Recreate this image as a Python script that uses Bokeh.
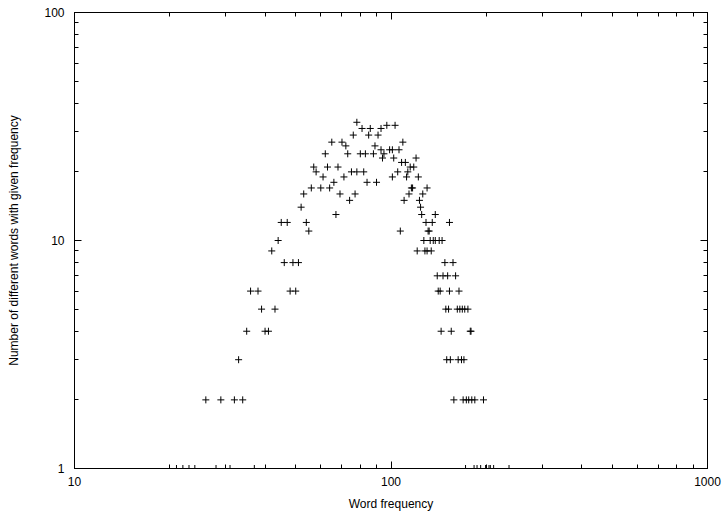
from bokeh.plotting import figure
from bokeh.models import (FixedTicker, LogAxis, PrintfTickFormatter, Range1d, ColumnDataSource,
                          CustomLabelingPolicy)
from bokeh.embed import file_html
from bokeh.resources import INLINE

# Word frequency (x) and number of different words having that frequency (y)
word_freq = [
    21, 22, 23, 24, 28, 30, 31, 37, 172, 183, 187, 192, 199, 204, 206, 211, 236,   # count 1
    26, 29, 32, 34, 158, 169, 173, 176, 180, 184, 196,                             # count 2
    33, 150, 154, 163, 167, 170,                                                   # count 3
    35, 40, 41, 144, 155, 178, 179,                                                # count 4
    39, 43, 149, 152, 162, 165, 168, 171, 175,                                     # count 5
    36, 38, 48, 50, 141, 143, 153, 164,                                            # count 6
    140, 146, 151, 160,                                                            # count 7
    46, 49, 51, 148, 157,                                                          # count 8
    42, 121, 128, 130, 134,                                                        # count 9
    44, 127, 133, 136, 138, 142, 145,                                              # count 10
    55, 107, 131, 132,                                                             # count 11
    45, 47, 54, 129, 135, 153,                                                     # count 12
    67, 125, 138,                                                                  # count 13
    52, 124,                                                                       # count 14
    74, 110, 123,                                                                  # count 15
    53, 69, 77, 114, 126,                                                          # count 16
    56, 60, 64, 116, 117, 130,                                                     # count 17
    66, 84, 90,                                                                    # count 18
    61, 71, 101, 112, 122,                                                         # count 19
    58, 75, 78, 82, 105, 113,                                                      # count 20
    57, 63, 68, 115, 118,                                                          # count 21
    108, 111,                                                                      # count 22
    94, 102, 120,                                                                  # count 23
    62, 73, 80, 83, 88, 95,                                                        # count 24
    93, 99, 101, 106,                                                              # count 25
    72, 89,                                                                        # count 26
    65, 70, 109,                                                                   # count 27
    76, 85, 91,                                                                    # count 29
    81, 86, 93,                                                                    # count 31
    97, 103,                                                                       # count 32
    78,                                                                            # count 33
]
n_words = (
    [1] * 17 + [2] * 11 + [3] * 6 + [4] * 7 + [5] * 9 + [6] * 8 + [7] * 4 + [8] * 5 +
    [9] * 5 + [10] * 7 + [11] * 4 + [12] * 6 + [13] * 3 + [14] * 2 + [15] * 3 + [16] * 5 +
    [17] * 6 + [18] * 3 + [19] * 5 + [20] * 6 + [21] * 5 + [22] * 2 + [23] * 3 + [24] * 6 +
    [25] * 4 + [26] * 2 + [27] * 3 + [29] * 3 + [31] * 3 + [32] * 2 + [33] * 1
)

x_major = [10, 100, 1000]
x_minor = [20, 30, 40, 50, 60, 70, 80, 90, 200, 300, 400, 500, 600, 700, 800, 900]
y_major = [1, 10, 100]
y_minor = [2, 3, 4, 5, 6, 7, 8, 9, 20, 30, 40, 50, 60, 70, 80, 90]

x_label = "Word frequency"
y_label = "Number of different words with given frequency"

FONT = "Liberation Sans"

p = figure(frame_width=633, frame_height=456, x_axis_type="log", y_axis_type="log",
           x_range=Range1d(10, 1000), y_range=Range1d(1, 100),
           output_backend="svg", toolbar_location=None,
           min_border_left=74, min_border_right=20, min_border_top=12, min_border_bottom=45)

p.background_fill_color = "white"
p.border_fill_color = "white"
p.outline_line_color = "black"
p.outline_line_width = 1
p.outline_line_alpha = 1
p.xgrid.visible = False
p.ygrid.visible = False

src = ColumnDataSource(dict(x=word_freq, y=n_words))
p.scatter("x", "y", source=src, marker="cross", size=7, line_color="black", line_width=1)

hide_labels = CustomLabelingPolicy(
    code="const all = [...indices]; for (const i of all) indices.unset(i); return indices")


def style_axis(ax, ticks, minor, show_labels):
    ax.ticker = FixedTicker(ticks=ticks, minor_ticks=minor)
    ax.axis_line_color = "black"
    ax.major_tick_line_color = "black"
    ax.minor_tick_line_color = "black"
    ax.major_tick_in = 7
    ax.major_tick_out = 0
    ax.minor_tick_in = 4
    ax.minor_tick_out = 0
    ax.major_label_text_font = FONT
    ax.major_label_text_color = "black"
    ax.major_label_text_font_size = "12px"
    if show_labels:
        ax.formatter = PrintfTickFormatter(format="%d")
    else:
        ax.formatter = PrintfTickFormatter(format="")
        ax.major_label_policy = hide_labels
        ax.major_label_standoff = 0


xa = p.xaxis[0]
ya = p.yaxis[0]
style_axis(xa, x_major, x_minor, True)
style_axis(ya, y_major, y_minor, True)
xa.major_label_standoff = 8
ya.major_label_standoff = 10
xa.axis_label = x_label
ya.axis_label = y_label
for ax in (xa, ya):
    ax.axis_label_text_font = FONT
    ax.axis_label_text_font_size = "12px"
    ax.axis_label_text_font_style = "normal"
    ax.axis_label_text_color = "black"
xa.axis_label_standoff = 8
ya.axis_label_standoff = 20

top = LogAxis()
right = LogAxis()
style_axis(top, x_major, x_minor, False)
style_axis(right, y_major, y_minor, False)
p.add_layout(top, "above")
p.add_layout(right, "right")

open("out.html", "w").write(file_html(p, INLINE))
